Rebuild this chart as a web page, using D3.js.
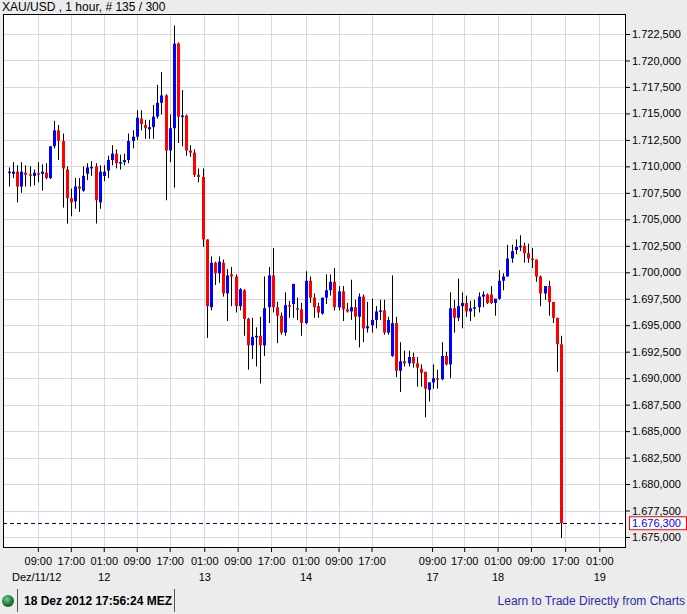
<!DOCTYPE html>
<html><head><meta charset="utf-8">
<script src="https://cdn.jsdelivr.net/npm/d3@7/dist/d3.min.js"></script>
<style>body{margin:0;background:#ececec;}svg{display:block;font-family:"Liberation Sans",Arial,sans-serif;}</style>
</head><body>
<svg id="c" width="687" height="614"></svg>
<script>
// OHLC candles, hourly
const opens  = [1709.4,1709.3,1709.5,1708.1,1709.4,1709.25,1709.1,1709.35,1709.3,1709.4,1708.9,1711.9,1713.4,1712.4,1709.7,1707.0,1706.7,1708.1,1707.7,1709.3,1709.85,1710.0,1706.6,1709.1,1709.6,1710.6,1711.2,1710.3,1710.4,1710.6,1712.4,1712.8,1714.5,1713.9,1713.5,1713.7,1714.7,1716.0,1716.7,1711.5,1713.6,1721.6,1714.7,1714.8,1711.5,1711.3,1709.2,1709.0,1703.1,1696.7,1700.9,1699.9,1700.9,1698.0,1699.8,1699.6,1696.8,1698.3,1695.6,1693.1,1693.9,1694.0,1693.1,1696.7,1699.7,1696.7,1695.9,1694.3,1696.9,1697.0,1696.6,1696.5,1695.2,1699.2,1697.6,1696.8,1696.1,1697.6,1698.3,1699.1,1696.7,1698.2,1696.5,1696.3,1696.7,1695.8,1697.7,1694.7,1695.0,1695.5,1696.3,1696.4,1694.3,1692.1,1695.2,1690.7,1691.6,1691.4,1692.0,1691.4,1690.9,1690.6,1688.9,1689.6,1690.0,1689.9,1692.1,1691.3,1696.6,1695.7,1696.8,1697.1,1696.3,1696.6,1696.7,1697.7,1697.9,1697.9,1697.1,1697.5,1699.2,1699.6,1701.3,1702.1,1702.4,1702.5,1701.8,1701.3,1701.2,1699.6,1698.0,1698.7,1697.2,1695.7,1693.2];
const highs  = [1709.9,1710.4,1710.1,1710.4,1710.1,1710.0,1709.7,1710.4,1710.2,1710.3,1711.9,1714.3,1713.9,1713.1,1710.0,1707.9,1708.9,1708.9,1710.0,1710.3,1710.5,1710.3,1710.1,1710.1,1711.0,1712.0,1711.6,1711.1,1711.2,1713.1,1713.4,1715.3,1715.3,1714.4,1714.4,1715.8,1717.7,1718.9,1716.8,1714.9,1723.3,1721.7,1717.2,1714.9,1712.0,1711.6,1709.8,1709.8,1703.1,1701.5,1701.0,1701.5,1701.2,1700.3,1700.5,1699.8,1698.5,1698.4,1695.7,1695.7,1694.8,1695.8,1699.6,1700.5,1702.3,1697.2,1696.2,1698.1,1697.3,1698.9,1697.6,1697.1,1700.1,1699.6,1698.0,1697.1,1697.6,1699.8,1699.8,1700.4,1698.7,1698.7,1697.1,1699.3,1697.4,1698.0,1697.9,1697.2,1697.5,1696.8,1697.4,1697.4,1695.8,1699.7,1695.8,1693.4,1692.6,1692.6,1692.4,1692.0,1691.3,1690.6,1689.6,1691.3,1690.8,1693.4,1692.5,1698.1,1697.4,1699.4,1698.1,1697.8,1697.3,1697.4,1698.1,1698.2,1698.0,1698.7,1697.5,1700.2,1699.9,1702.6,1702.6,1703.1,1703.5,1702.8,1702.7,1702.3,1701.2,1699.7,1698.7,1699.2,1697.2,1695.7,1694.0];
const lows   = [1708.1,1708.9,1706.6,1707.5,1708.1,1708.1,1708.2,1708.5,1707.7,1708.8,1708.8,1711.7,1710.6,1706.1,1704.6,1705.3,1706.0,1705.7,1707.6,1708.7,1709.1,1704.6,1706.0,1708.6,1708.9,1710.1,1709.8,1709.7,1710.1,1710.3,1711.7,1712.5,1713.4,1712.6,1712.6,1712.6,1714.5,1714.9,1706.8,1710.4,1708.0,1712.2,1711.9,1711.0,1710.9,1709.0,1708.5,1702.4,1693.8,1696.4,1698.8,1699.0,1697.7,1695.4,1696.8,1696.2,1696.4,1694.0,1690.8,1691.8,1691.1,1689.5,1692.1,1695.2,1696.2,1693.3,1694.1,1694.0,1695.7,1695.7,1695.5,1694.0,1695.1,1697.1,1695.7,1695.7,1696.0,1697.0,1697.8,1696.4,1696.4,1695.4,1696.2,1695.5,1693.6,1692.9,1693.4,1694.3,1694.3,1694.7,1695.5,1694.1,1694.1,1692.0,1690.1,1688.7,1691.1,1691.1,1691.0,1689.2,1689.2,1686.3,1687.8,1689.0,1689.0,1689.8,1691.2,1690.0,1694.3,1695.4,1694.7,1695.8,1695.4,1695.8,1696.2,1696.7,1697.0,1697.0,1695.9,1697.4,1698.3,1699.6,1700.9,1701.7,1702.0,1700.9,1700.9,1700.4,1699.1,1696.8,1697.4,1695.9,1695.2,1690.6,1674.9];
const closes = [1709.5,1709.5,1708.1,1709.5,1709.2,1709.15,1709.4,1709.25,1709.5,1708.9,1711.9,1713.4,1712.4,1709.8,1707.0,1706.6,1708.1,1707.9,1709.1,1709.9,1709.95,1706.8,1709.5,1709.5,1710.6,1711.2,1710.3,1710.4,1710.6,1712.4,1712.8,1714.6,1714.0,1713.6,1713.7,1714.7,1716.0,1716.7,1711.5,1713.6,1721.6,1714.7,1714.8,1711.5,1711.3,1709.2,1709.0,1703.1,1696.8,1700.9,1699.9,1701.0,1698.0,1699.7,1699.6,1696.8,1698.4,1695.6,1693.1,1693.9,1694.0,1693.1,1696.6,1699.7,1696.7,1695.9,1694.3,1696.9,1696.8,1698.9,1696.5,1695.2,1699.2,1697.6,1696.7,1696.2,1697.6,1698.3,1699.1,1696.7,1698.2,1696.5,1696.3,1696.7,1695.8,1697.7,1694.7,1694.9,1695.5,1696.3,1696.4,1694.3,1695.5,1695.2,1690.7,1691.6,1691.4,1692.0,1691.4,1691.0,1690.5,1689.0,1689.6,1690.0,1689.9,1692.1,1691.3,1696.6,1695.7,1696.8,1697.1,1696.3,1696.6,1696.7,1697.7,1697.9,1697.1,1697.1,1697.5,1699.2,1699.6,1701.3,1702.0,1702.4,1702.5,1701.8,1701.3,1701.2,1699.6,1698.0,1698.7,1697.2,1695.7,1693.2,1676.3];
const yTicks = [1675,1677.5,1680,1682.5,1685,1687.5,1690,1692.5,1695,1697.5,1700,1702.5,1705,1707.5,1710,1712.5,1715,1717.5,1720,1722.5];
const timeTickIdx = [7,15,23,31,39,47.4,55.5,63.6,72,80,88,102.7,110.5,118.6,126.7,135,143.3];
const timeTickLabels = ["09:00","17:00","01:00","09:00","17:00","01:00","09:00","17:00","01:00","09:00","17:00","09:00","17:00","01:00","09:00","17:00","01:00"];
const dateTickIdx = [23,47.4,72,102.7,118.6,143.3];
const dateTickLabels = ["12","13","14","17","18","19"];
const lastPrice = 1676.3;

const svg = d3.select("#c");
const L=3,T=14,R=626,B=548;
const x = d3.scaleLinear().domain([0,134]).range([9,561]);
const y = d3.scaleLinear().domain([1675,1722.5]).range([537,34]);
const loc = d3.formatLocale({decimal:",",thousands:".",grouping:[3],currency:["",""]});
const fmt = loc.format(",.3f");

svg.append("text").attr("x",2).attr("y",11).attr("font-size",12).text("XAU/USD , 1 hour, # 135 / 300");
svg.append("rect").attr("x",L).attr("y",T).attr("width",R-L).attr("height",B-T).attr("fill","#fff");
const g = svg.append("g");
g.selectAll(".hg").data(yTicks).join("line").attr("x1",L).attr("x2",R).attr("y1",d=>Math.round(y(d))+0.5).attr("y2",d=>Math.round(y(d))+0.5).attr("stroke","#d9d9d9");
g.selectAll(".vg").data(timeTickIdx.filter(d=>x(d)<R)).join("line").attr("y1",T).attr("y2",B).attr("x1",d=>Math.round(x(d))+0.5).attr("x2",d=>Math.round(x(d))+0.5).attr("stroke","#d9d9d9");

const idx = d3.range(opens.length);
g.selectAll(".w").data(idx).join("line").attr("x1",i=>Math.round(x(i))+0.5).attr("x2",i=>Math.round(x(i))+0.5)
 .attr("y1",i=>y(highs[i])).attr("y2",i=>y(lows[i])).attr("stroke","#000");
g.selectAll(".b").data(idx).join("rect").attr("x",i=>Math.round(x(i))-1).attr("width",3)
 .attr("y",i=>y(Math.max(opens[i],closes[i]))).attr("height",i=>Math.max(1.5,Math.abs(y(opens[i])-y(closes[i]))))
 .attr("fill",i=>closes[i]>=opens[i]?"#0000ff":"#ff0000");

svg.append("line").attr("x1",L).attr("x2",R).attr("y1",Math.round(y(lastPrice))+0.5).attr("y2",Math.round(y(lastPrice))+0.5)
 .attr("stroke","#0000aa").attr("stroke-dasharray","4,3");
svg.append("rect").attr("x",L+0.5).attr("y",T+0.5).attr("width",R-L-1).attr("height",B-T-1).attr("fill","none").attr("stroke","#000");

const ax = d3.axisRight(y).tickValues(yTicks).tickSize(4).tickFormat(fmt);
const ag = svg.append("g").attr("transform",`translate(${R},0)`).call(ax);
ag.select(".domain").remove();
ag.selectAll("text").attr("font-size",11).attr("font-family","Liberation Sans, Arial").attr("x",6);
ag.selectAll("line").attr("stroke","#000");
const lp = svg.append("g").attr("transform",`translate(${R+3},${y(lastPrice)})`);
lp.append("rect").attr("x",0.5).attr("y",-6.5).attr("width",57).attr("height",13).attr("fill","#fff").attr("stroke","#ff0000");
lp.append("text").attr("x",3).attr("y",4).attr("font-size",11).attr("fill","#0000ff").text(fmt(lastPrice));

const bx = d3.axisBottom(x).tickValues(timeTickIdx).tickSize(4).tickFormat((d,i)=>timeTickLabels[i]);
const bg = svg.append("g").attr("transform",`translate(0,${B})`).call(bx);
bg.select(".domain").remove();
bg.selectAll("text").attr("font-size",11).attr("font-family","Liberation Sans, Arial").attr("dy","0.9em");
const dx = d3.axisBottom(x).tickValues(dateTickIdx).tickSize(0).tickFormat((d,i)=>dateTickLabels[i]);
const dg = svg.append("g").attr("transform",`translate(0,${B+20})`).call(dx);
dg.select(".domain").remove();
dg.selectAll("text").attr("font-size",11).attr("font-family","Liberation Sans, Arial").attr("dy","0.9em");
svg.append("text").attr("x",12).attr("y",581).attr("font-size",11).text("Dez/11/12");

const grad = svg.append("defs").append("radialGradient").attr("id","gb").attr("cx","40%").attr("cy","35%");
grad.append("stop").attr("offset","0%").attr("stop-color","#6fcf8f");
grad.append("stop").attr("offset","100%").attr("stop-color","#1a6a34");
svg.append("circle").attr("cx",8).attr("cy",601).attr("r",6).attr("fill","url(#gb)");
svg.append("line").attr("x1",17.5).attr("x2",17.5).attr("y1",589).attr("y2",612).attr("stroke","#555");
svg.append("line").attr("x1",174.5).attr("x2",174.5).attr("y1",589).attr("y2",612).attr("stroke","#555");
svg.append("text").attr("x",24).attr("y",605).attr("font-size",12).attr("font-weight","bold").text("18 Dez 2012 17:56:24 MEZ");
svg.append("text").attr("x",685).attr("y",605).attr("font-size",12).attr("text-anchor","end").attr("fill","#2a2aaa").text("Learn to Trade Directly from Charts");
</script>
</body></html>
